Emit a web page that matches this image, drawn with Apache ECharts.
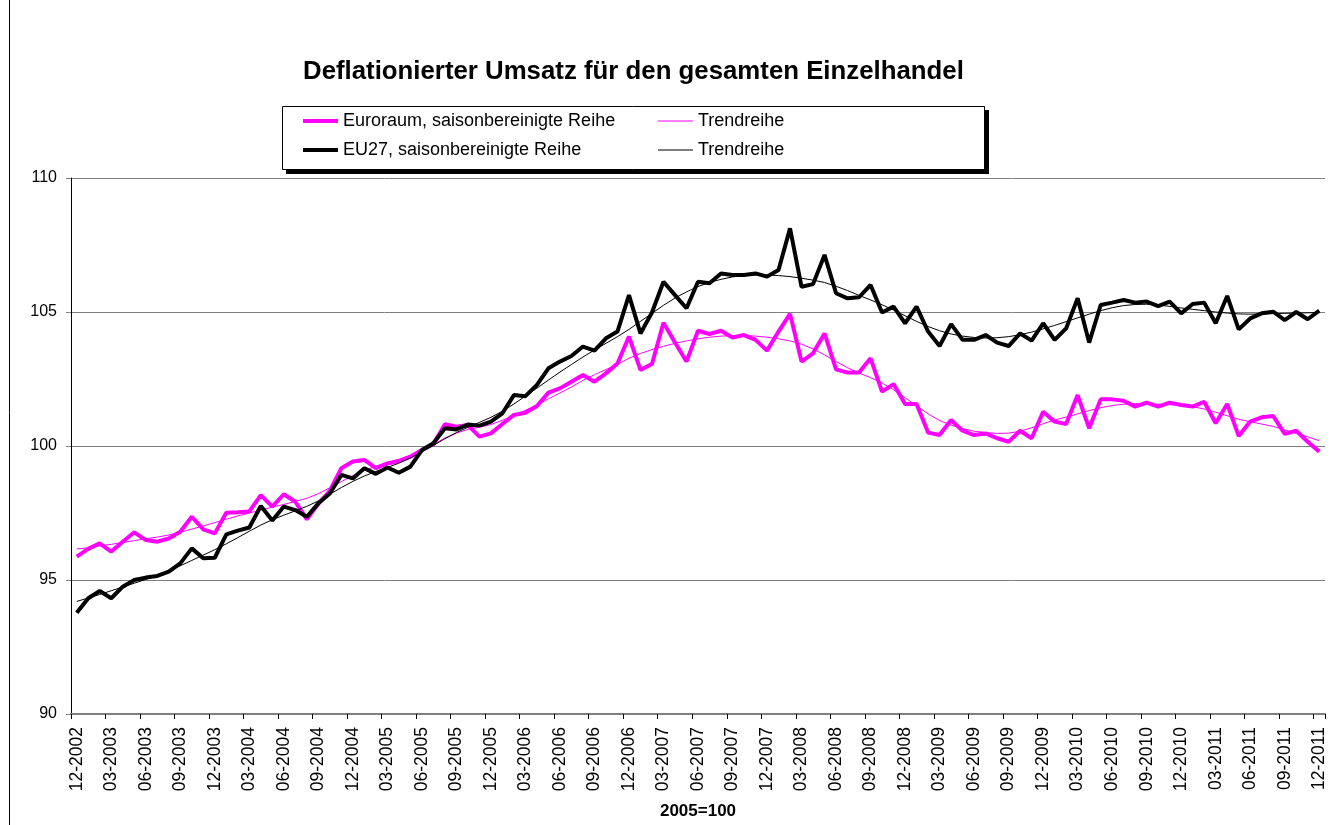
<!DOCTYPE html>
<html>
<head>
<meta charset="utf-8">
<script src="https://cdn.jsdelivr.net/npm/echarts@6/dist/echarts.min.js"></script>
<style>
html,body{margin:0;padding:0;background:#fff;}
#chart{width:1342px;height:825px;}
</style>
</head>
<body>
<div id="chart"></div>
<script>
var months = [
'12-2002',
'01-2003','02-2003','03-2003','04-2003','05-2003','06-2003','07-2003','08-2003','09-2003','10-2003','11-2003','12-2003',
'01-2004','02-2004','03-2004','04-2004','05-2004','06-2004','07-2004','08-2004','09-2004','10-2004','11-2004','12-2004',
'01-2005','02-2005','03-2005','04-2005','05-2005','06-2005','07-2005','08-2005','09-2005','10-2005','11-2005','12-2005',
'01-2006','02-2006','03-2006','04-2006','05-2006','06-2006','07-2006','08-2006','09-2006','10-2006','11-2006','12-2006',
'01-2007','02-2007','03-2007','04-2007','05-2007','06-2007','07-2007','08-2007','09-2007','10-2007','11-2007','12-2007',
'01-2008','02-2008','03-2008','04-2008','05-2008','06-2008','07-2008','08-2008','09-2008','10-2008','11-2008','12-2008',
'01-2009','02-2009','03-2009','04-2009','05-2009','06-2009','07-2009','08-2009','09-2009','10-2009','11-2009','12-2009',
'01-2010','02-2010','03-2010','04-2010','05-2010','06-2010','07-2010','08-2010','09-2010','10-2010','11-2010','12-2010',
'01-2011','02-2011','03-2011','04-2011','05-2011','06-2011','07-2011','08-2011','09-2011','10-2011','11-2011','12-2011'
];

var euroSA = [
95.87,96.16,96.37,96.06,96.43,96.78,96.49,96.43,96.55,96.80,
97.36,96.89,96.74,97.51,97.53,97.56,98.17,97.74,98.20,97.92,
97.26,97.84,98.33,99.17,99.42,99.48,99.17,99.35,99.44,99.60,
99.85,100.07,100.81,100.72,100.78,100.35,100.47,100.82,101.16,101.24,
101.49,101.99,102.15,102.40,102.65,102.40,102.71,103.08,104.08,102.84,
103.06,104.60,103.86,103.15,104.30,104.18,104.30,104.05,104.14,103.96,
103.56,104.27,104.93,103.15,103.46,104.20,102.86,102.74,102.74,103.27,
102.03,102.31,101.57,101.57,100.50,100.41,100.97,100.57,100.41,100.47,
100.29,100.16,100.57,100.29,101.28,100.91,100.82,101.90,100.66,101.74,
101.74,101.69,101.47,101.62,101.47,101.62,101.53,101.47,101.65,100.85,
101.57,100.37,100.91,101.07,101.12,100.45,100.57,100.16,99.79
];

var euroTrend = [
96.16,96.20,96.27,96.33,96.40,96.47,96.54,96.60,96.68,96.78,
96.90,97.02,97.14,97.27,97.39,97.50,97.61,97.72,97.82,97.93,
98.05,98.22,98.44,98.67,98.90,99.08,99.25,99.38,99.50,99.65,
99.83,100.05,100.30,100.48,100.62,100.70,100.80,100.96,101.14,101.33,
101.53,101.76,101.98,102.20,102.45,102.66,102.85,103.05,103.27,103.45,
103.60,103.72,103.83,103.92,104.00,104.06,104.10,104.12,104.12,104.10,
104.06,104.00,103.92,103.80,103.62,103.40,103.15,102.92,102.72,102.55,
102.35,102.10,101.80,101.50,101.20,100.95,100.78,100.65,100.55,100.50,
100.47,100.48,100.55,100.68,100.83,100.97,101.08,101.20,101.32,101.43,
101.51,101.56,101.58,101.58,101.56,101.54,101.52,101.47,101.38,101.26,
101.13,101.00,100.90,100.82,100.73,100.60,100.47,100.34,100.20
];

var eu27SA = [
93.78,94.32,94.59,94.32,94.75,95.00,95.09,95.15,95.31,95.62,
96.18,95.81,95.83,96.70,96.84,96.96,97.76,97.22,97.74,97.61,
97.36,97.86,98.23,98.92,98.79,99.17,98.96,99.20,99.00,99.23,
99.85,100.10,100.66,100.62,100.80,100.76,100.91,101.22,101.90,101.86,
102.28,102.90,103.15,103.36,103.71,103.56,104.02,104.27,105.63,104.20,
104.98,106.13,105.63,105.14,106.13,106.07,106.44,106.38,106.38,106.44,
106.32,106.57,108.12,105.94,106.04,107.13,105.70,105.51,105.55,106.01,
104.98,105.20,104.58,105.20,104.27,103.73,104.55,103.96,103.96,104.14,
103.86,103.73,104.20,103.93,104.58,103.96,104.39,105.51,103.86,105.26,
105.35,105.45,105.35,105.39,105.22,105.39,104.95,105.30,105.35,104.58,
105.60,104.35,104.76,104.95,105.01,104.70,105.00,104.73,105.05
];

var eu27Trend = [
94.20,94.33,94.46,94.60,94.74,94.88,95.02,95.17,95.34,95.53,
95.73,95.93,96.13,96.35,96.58,96.82,97.05,97.25,97.42,97.58,
97.75,97.95,98.20,98.45,98.68,98.88,99.05,99.20,99.36,99.55,
99.78,100.02,100.27,100.50,100.70,100.88,101.07,101.30,101.57,101.86,
102.16,102.46,102.76,103.04,103.32,103.58,103.83,104.08,104.35,104.65,
104.95,105.25,105.52,105.75,105.95,106.10,106.22,106.31,106.36,106.38,
106.38,106.36,106.32,106.26,106.19,106.10,105.96,105.80,105.62,105.45,
105.27,105.07,104.86,104.65,104.46,104.30,104.18,104.10,104.05,104.03,
104.04,104.08,104.15,104.25,104.37,104.50,104.64,104.78,104.92,105.05,
105.16,105.24,105.28,105.29,105.26,105.21,105.15,105.10,105.05,105.00,
104.96,104.93,104.92,104.93,104.94,104.95,104.96,104.97,104.98
];

var seriesNames = ['Euroraum, saisonbereinigte Reihe', 'Trendreihe', 'EU27, saisonbereinigte Reihe', 'Trendreihe '];
var titleText = 'Deflationierter Umsatz für den gesamten Einzelhandel';
var axisNameText = '2005=100';

var FONT = "'Liberation Sans', Arial, sans-serif";
var PINK = '#FF00FF';
var BLACK = '#000000';

function legendItem(name, left, top, h) {
  return {
    data: [{name: name}],
    left: left, top: top, padding: 0,
    icon: 'rect', itemWidth: 35, itemHeight: h,
    selectedMode: false,
    formatter: function (n) { return n.trim(); },
    textStyle: {fontFamily: FONT, fontSize: 18, color: '#000'}
  };
}

var chart = echarts.init(document.getElementById('chart'), null, {renderer: 'canvas'});
chart.setOption({
  animation: false,
  backgroundColor: '#ffffff',
  title: {
    text: titleText, left: 298, top: 54,
    textStyle: {fontFamily: FONT, fontSize: 25.8, fontWeight: 'bold', color: '#000'}
  },
  graphic: [
    {type: 'line', shape: {x1: 9.5, y1: 0, x2: 9.5, y2: 825}, style: {stroke: '#000', lineWidth: 1}},
    {type: 'rect', shape: {x: 286, y: 110, width: 703, height: 64}, style: {fill: '#000'}},
    {type: 'rect', shape: {x: 282.5, y: 106.5, width: 702, height: 63}, style: {fill: '#fff', stroke: '#000', lineWidth: 1}}
  ],
  legend: [
    legendItem(seriesNames[0], 303, 112, 4),
    legendItem(seriesNames[1], 658, 112, 1),
    legendItem(seriesNames[2], 303, 141, 4),
    legendItem(seriesNames[3], 658, 141, 1)
  ],
  grid: {left: 71, right: 17, top: 178, bottom: 111, containLabel: false},
  xAxis: {
    type: 'category', data: months, boundaryGap: true,
    name: axisNameText, nameLocation: 'middle', nameGap: 89,
    nameTextStyle: {fontFamily: FONT, fontSize: 17, fontWeight: 'bold', color: '#000'},
    axisLine: {show: true, lineStyle: {color: '#808080', width: 2}},
    axisTick: {show: true, interval: 2, alignWithLabel: false, length: 5, lineStyle: {color: '#000', width: 1}},
    axisLabel: {interval: 2, rotate: 90, margin: 13, fontFamily: FONT, fontSize: 17.5, color: '#000'},
    splitLine: {show: false}
  },
  yAxis: {
    type: 'value', min: 90, max: 110, interval: 5,
    axisLine: {show: true, lineStyle: {color: '#000', width: 1}},
    axisTick: {show: true, length: 5, lineStyle: {color: '#808080', width: 1}},
    axisLabel: {margin: 14, fontFamily: FONT, fontSize: 16, color: '#000'},
    splitLine: {show: true, lineStyle: {color: '#808080', width: 1}}
  },
  series: [
    {name: seriesNames[0], type: 'line', data: euroSA, symbol: 'none', color: PINK, itemStyle: {color: PINK}, lineStyle: {color: PINK, width: 4}, z: 2},
    {name: seriesNames[1], type: 'line', data: euroTrend, symbol: 'none', color: PINK, itemStyle: {color: PINK}, lineStyle: {color: PINK, width: 1}, z: 3},
    {name: seriesNames[2], type: 'line', data: eu27SA, symbol: 'none', color: BLACK, itemStyle: {color: BLACK}, lineStyle: {color: BLACK, width: 4}, z: 4},
    {name: seriesNames[3], type: 'line', data: eu27Trend, symbol: 'none', color: BLACK, itemStyle: {color: BLACK}, lineStyle: {color: BLACK, width: 1}, z: 5}
  ]
});
</script>
</body>
</html>
